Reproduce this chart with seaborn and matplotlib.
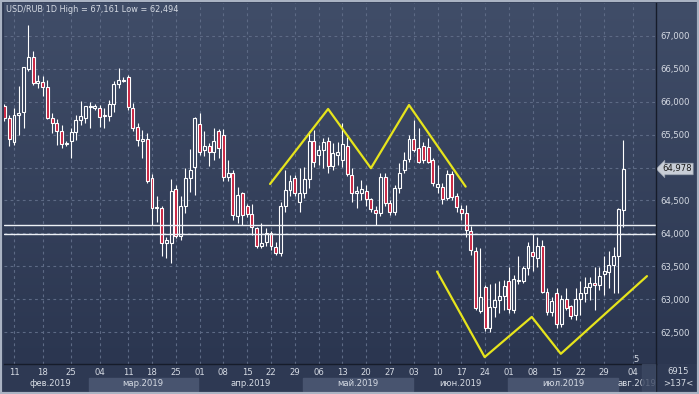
import numpy as np
import matplotlib as mpl
mpl.use("Agg")
import matplotlib.pyplot as plt
import seaborn as sns
from matplotlib.patches import Rectangle
from matplotlib.colors import LinearSegmentedColormap
from matplotlib.transforms import Bbox, TransformedBbox

# USD/RUB daily candles
open_ = [65.94, 65.75, 65.39, 65.80, 65.84, 66.49, 66.68, 66.28, 66.30, 66.22,
         65.76, 65.67, 65.56, 65.36, 65.40, 65.54, 65.72, 65.76, 65.92, 65.91,
         65.90, 65.78, 65.79, 65.96, 66.27, 66.31, 66.37, 65.90, 65.61, 65.41,
         65.43, 64.84, 64.38, 64.38, 63.86, 63.86, 64.67, 63.96, 64.41, 64.84,
         65.01, 65.66, 65.26, 65.32, 65.23, 65.56, 65.49, 64.85, 64.92, 64.26,
         64.61, 64.42, 64.29, 64.08, 63.81, 63.87, 64.00, 63.80, 63.70, 64.41,
         64.66, 64.84, 64.47, 64.61, 64.83, 65.40, 65.19, 65.26, 65.40, 65.02,
         65.19, 65.12, 65.33, 64.88, 64.61, 64.62, 64.65, 64.52, 64.36, 64.31,
         64.85, 64.46, 64.33, 64.69, 64.96, 65.13, 65.43, 65.29, 65.32, 65.31,
         65.12, 64.71, 64.71, 64.53, 64.90, 64.56, 64.37, 64.31, 64.04, 63.73,
         62.82, 63.18, 62.56, 62.88, 62.99, 63.05, 63.27, 62.83, 63.28, 63.28,
         63.47, 63.71, 63.63, 63.81, 63.11, 62.81, 63.09, 62.62, 63.00, 62.89,
         62.76, 63.00, 63.10, 63.18, 63.25, 63.21, 63.38, 63.42, 63.52, 63.66,
         64.36]
high = [65.97, 65.80, 65.91, 66.24, 66.53, 67.161, 66.77, 66.40, 66.39, 66.33,
        65.83, 65.73, 65.65, 65.40, 65.60, 65.80, 66.01, 65.94, 66.00, 65.96,
        65.95, 65.90, 66.03, 66.31, 66.51, 66.38, 66.41, 65.98, 65.67, 65.57,
        65.52, 64.90, 64.56, 64.41, 63.95, 64.82, 64.74, 64.56, 64.99, 65.28,
        65.77, 65.83, 65.56, 65.37, 65.60, 65.59, 65.59, 65.12, 64.96, 64.71,
        64.63, 64.45, 64.45, 64.10, 64.15, 64.08, 64.03, 63.87, 64.48, 64.96,
        64.89, 64.89, 64.99, 65.01, 65.56, 65.57, 65.34, 65.45, 65.46, 65.37,
        65.39, 65.67, 65.47, 64.99, 64.72, 64.81, 64.74, 64.53, 64.41, 64.91,
        64.91, 64.51, 64.74, 65.07, 65.24, 65.50, 65.72, 65.60, 65.39, 65.45,
        65.15, 65.04, 64.76, 64.96, 64.94, 64.61, 64.43, 64.43, 64.11, 63.80,
        63.77, 63.22, 63.23, 63.24, 63.28, 63.29, 63.49, 63.37, 63.66, 63.50,
        63.87, 63.99, 63.95, 63.90, 63.17, 63.04, 63.17, 63.06, 63.17, 62.91,
        63.17, 63.27, 63.34, 63.34, 63.49, 63.49, 63.65, 63.73, 63.80, 64.39,
        65.42]
low = [65.70, 65.33, 65.34, 65.50, 65.60, 66.47, 66.26, 66.21, 66.08, 65.73,
       65.52, 65.34, 65.29, 65.32, 65.15, 65.42, 65.65, 65.67, 65.60, 65.87,
       65.62, 65.60, 65.70, 65.84, 66.21, 66.30, 65.88, 65.55, 65.32, 65.14,
       64.76, 64.13, 64.18, 63.65, 63.62, 63.55, 63.93, 63.90, 64.31, 64.63,
       64.58, 65.19, 65.17, 65.02, 65.12, 65.14, 64.79, 64.79, 64.20, 64.15,
       64.13, 64.25, 63.98, 63.77, 63.77, 63.81, 63.75, 63.67, 63.65, 64.33,
       64.56, 64.57, 64.33, 64.54, 64.69, 65.01, 65.04, 65.00, 64.91, 64.96,
       65.04, 65.01, 64.87, 64.47, 64.38, 64.51, 64.41, 64.33, 64.13, 64.26,
       64.41, 64.28, 64.28, 64.61, 64.91, 65.09, 65.24, 65.07, 65.07, 65.07,
       64.72, 64.61, 64.45, 64.51, 64.51, 64.33, 64.20, 63.95, 63.67, 62.84,
       62.79, 62.51, 62.494, 62.73, 62.79, 62.84, 62.79, 62.79, 63.23, 63.24,
       63.37, 63.43, 63.49, 63.09, 62.76, 62.74, 62.56, 62.57, 62.84, 62.70,
       62.68, 62.76, 62.96, 62.99, 62.84, 63.14, 63.06, 63.17, 63.09, 63.09,
       64.09]
close = [65.75, 65.43, 65.80, 65.83, 66.52, 66.68, 66.28, 66.31, 66.22, 65.76,
         65.67, 65.56, 65.36, 65.38, 65.54, 65.72, 65.78, 65.93, 65.94, 65.93,
         65.77, 65.80, 65.96, 66.27, 66.33, 66.33, 65.92, 65.60, 65.42, 65.43,
         64.79, 64.39, 64.40, 63.85, 63.90, 64.64, 63.96, 64.41, 64.84, 64.97,
         65.75, 65.23, 65.32, 65.23, 65.40, 65.29, 64.85, 64.92, 64.28, 64.59,
         64.28, 64.29, 64.09, 63.81, 63.86, 64.00, 63.81, 63.70, 64.41, 64.66,
         64.80, 64.61, 64.61, 64.83, 65.40, 65.09, 65.26, 65.39, 65.02, 65.22,
         65.23, 65.36, 64.90, 64.61, 64.65, 64.67, 64.52, 64.37, 64.31, 64.86,
         64.46, 64.33, 64.69, 64.92, 65.12, 65.43, 65.27, 65.09, 65.12, 65.09,
         64.77, 64.75, 64.52, 64.90, 64.55, 64.40, 64.31, 64.05, 63.74, 62.86,
         63.04, 62.56, 62.88, 62.98, 63.05, 63.20, 62.85, 63.30, 63.29, 63.48,
         63.81, 63.66, 63.81, 63.11, 62.81, 62.97, 62.63, 63.00, 62.87, 62.74,
         63.01, 63.09, 63.18, 63.25, 63.22, 63.35, 63.43, 63.52, 63.66, 64.37,
         64.978]

day_ticks = [2, 8, 14, 20, 26, 31, 36, 41, 46, 51, 56, 61, 66, 71, 76, 81, 86,
             91, 96, 101, 106, 111, 116, 121, 126, 132]
day_labels = ["11", "18", "25", "04", "11", "18", "25", "01", "08", "15", "22",
              "29", "06", "13", "20", "27", "03", "10", "17", "24", "01", "08",
              "15", "22", "29", "04"]
months = ["фев.2019", "мар.2019", "апр.2019", "май.2019", "июн.2019",
          "июл.2019", "авг.2019"]
month_edges = [-2.0, 17.75, 40.6, 62.7, 85.75, 105.8, 128.95, 141.0]
month_centers = [9.6, 29.1, 51.7, 74.2, 95.8, 117.4, 132.9]

price_ticks = [62.5, 63.0, 63.5, 64.0, 64.5, 65.0, 65.5, 66.0, 66.5, 67.0]

# drawn pattern (head & shoulders / inverse)
top_x = [55.8, 68.0, 77.0, 85.0, 96.9]
top_y = [64.75, 65.89, 64.99, 65.95, 64.71]
bot_x = [90.9, 100.9, 110.8, 116.9, 135.0]
bot_y = [63.42, 62.12, 62.73, 62.17, 63.35]
levels = [64.13, 63.99]
last_price = 64.978

W, H = 699, 394
sns.set_theme(style="dark")
plt.rcParams['font.family'] = ['DejaVu Sans']
txt_col = "#d6dbe4"
red = "#c8203e"
up_fill = "#35415b"
fs = 6.1

fig = plt.figure(figsize=(W / 100, H / 100), dpi=100, facecolor="#2e3953")
ax = fig.add_axes([4 / W, 30 / H, 652 / W, 361 / H])
xlim = (-0.1, 136.9)
ylim = (62.015, 67.50)
# width of the price-label strip in candle units (43 px / 4.76 px per candle)
strip = 43 / 4.76

# gradient background, run on under the price labels too
grad = np.linspace(0, 1, 256).reshape(-1, 1)
cmap = LinearSegmentedColormap.from_list("bg", ["#404d68", "#2b3650"])
bg = ax.imshow(grad, cmap=cmap, extent=[xlim[0], xlim[1] + strip, ylim[0], ylim[1]],
               aspect="auto", zorder=0, origin="upper")
bg.set_clip_on(False)

# grid
for v in price_ticks:
    ax.axhline(v, color="#5d6a85", lw=0.8, ls=(0, (2.5, 3)), zorder=1)
for t in day_ticks:
    ax.axvline(t, color="#5d6a85", lw=0.8, ls=(0, (2.5, 3)), zorder=1)

# candles
x = np.arange(len(open_))
o = np.array(open_)
c = np.array(close)
up = c >= o
ax.vlines(x, low, high, color="white", lw=0.8, zorder=3)
ax.bar(x[up], (c - o)[up], bottom=o[up], width=0.62, color=up_fill,
       edgecolor="white", linewidth=0.8, zorder=4)
ax.bar(x[~up], (o - c)[~up], bottom=c[~up], width=0.62, color=red,
       edgecolor="white", linewidth=0.8, zorder=4)

# support lines
for lv in levels:
    ax.axhline(lv, color="#eef1f6", lw=1.0, zorder=5)

# pattern lines
sns.lineplot(x=top_x, y=top_y, ax=ax, color="#e6e41c", lw=1.6, sort=False, zorder=6)
sns.lineplot(x=bot_x, y=bot_y, ax=ax, color="#e6e41c", lw=1.6, sort=False, zorder=6)

ax.set_xlim(*xlim)
ax.set_ylim(*ylim)

# axes look
for s in ["left", "top"]:
    ax.spines[s].set_visible(False)
for s in ["right", "bottom"]:
    ax.spines[s].set_visible(True)
    ax.spines[s].set_color("#161c2a")
    ax.spines[s].set_linewidth(1.0)
    ax.spines[s].set_zorder(7)
ax.yaxis.tick_right()
ax.set_yticks(price_ticks,
              ["" if v == 65.0 else f"{v:.3f}".replace(".", ",") for v in price_ticks])
ax.set_xticks(day_ticks, day_labels)
ax.tick_params(axis="both", length=0, colors=txt_col, labelsize=fs)
ax.tick_params(axis="y", pad=3)
ax.tick_params(axis="x", pad=3)
ax.set_xlabel("")
ax.set_ylabel("")

# month band
tr = ax.get_xaxis_transform()
band_clip = TransformedBbox(Bbox([[4 / W, 0], [656 / W, 1]]), fig.transFigure)
for i, m in enumerate(months):
    if i % 2 == 1:
        ax.add_patch(Rectangle((month_edges[i], -0.075),
                               month_edges[i + 1] - month_edges[i], 0.036,
                               transform=tr, color="#48546f", clip_on=False, zorder=0))
    t = ax.text(month_centers[i], -0.0535, m, transform=tr, ha="center", va="center",
                color=txt_col, fontsize=fs)
    t.set_clip_box(band_clip)
    t.set_clip_on(True)

# scroll thumb at right of band
fig.patches.append(Rectangle((642 / W, 3 / H), 13 / W, 27 / H,
                             transform=fig.transFigure, color="#3d4963", alpha=0.8, zorder=5))

# last price tag
ax.annotate(f"{last_price:.3f}".replace(".", ","), xy=(1.0, last_price),
            xycoords=("axes fraction", "data"), xytext=(4.5, 0),
            textcoords="offset points", ha="left", va="center", fontsize=fs,
            color="#1a1a1a", annotation_clip=False,
            bbox=dict(boxstyle="larrow,pad=0.15", fc="#c9ced7", ec="#9aa2b0", lw=0.5))

# header and corner texts
fig.text(6 / W, 1 - 9 / H, "USD/RUB 1D High = 67,161 Low = 62,494", ha="left",
         va="center", color=txt_col, fontsize=5.9)
fig.text(636 / W, 1 - 359 / H, "5", ha="center", va="center", color=txt_col,
         fontsize=fs)
fig.text(678 / W, 1 - 372 / H, "6915", ha="center", va="center", color=txt_col,
         fontsize=fs)
fig.text(678 / W, 1 - 384 / H, ">137<", ha="center", va="center", color=txt_col,
         fontsize=fs)
fig.lines.append(plt.Line2D([656 / W, 656 / W], [0, 30 / H], transform=fig.transFigure,
                            color="#161c2a", lw=1.0))

# window frame
fig.patches.append(Rectangle((0, 0), 1, 1, transform=fig.transFigure, fill=False,
                             ec="#aab3c3", lw=3, zorder=10))

fig.savefig("out.png", dpi=100, facecolor=fig.get_facecolor())
